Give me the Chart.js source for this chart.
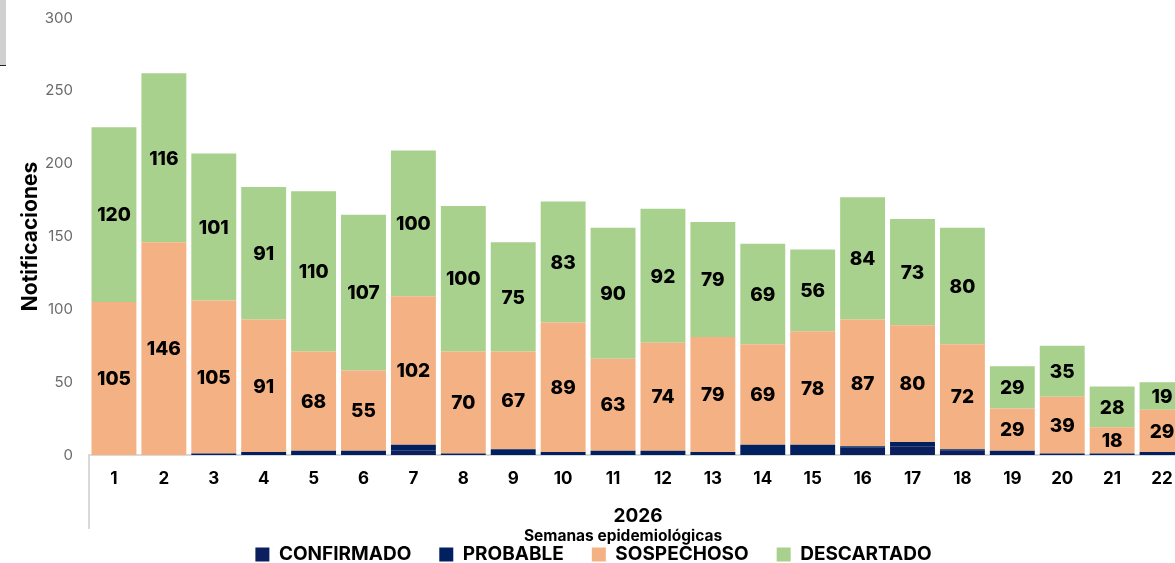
<!DOCTYPE html>
<html lang="es">
<head>
    <meta charset="UTF-8">
    <title>Notificaciones por semana epidemiológica</title>
    <script src="https://cdn.jsdelivr.net/npm/chart.js"></script>
    <style>
        body {
            margin: 0;
            padding: 0;
            background-color: #ffffff;
            overflow: hidden;
        }

        .wrap {
            position: absolute;
            left: 0;
            top: 0;
            width: 1195px;
            height: 563px;
        }

        .corner {
            position: absolute;
            left: 0;
            top: 0;
            width: 6px;
            height: 65px;
            background-color: #d0d0d0;
            border-bottom: 1px solid #222;
        }
    </style>
</head>
<body>
    <div class="wrap">
        <canvas id="notifChart"></canvas>
    </div>
    <div class="corner"></div>

    <script>
        // Semanas epidemiológicas 2026
        const weeks = ['1', '2', '3', '4', '5', '6', '7', '8', '9', '10', '11',
                       '12', '13', '14', '15', '16', '17', '18', '19', '20', '21', '22'];

        const confirmado = [0, 0, 0, 0, 0, 0, 3, 0, 0, 0, 0, 0, 0, 0, 0, 5, 6, 3, 0, 0, 0, 0];
        const probable   = [0, 0, 1, 2, 3, 3, 4, 1, 4, 2, 3, 3, 2, 7, 7, 1, 3, 1, 3, 1, 1, 2];
        const sospechoso = [105, 146, 105, 91, 68, 55, 102, 70, 67, 89, 63, 74, 79, 69, 78, 87, 80, 72, 29, 39, 18, 29];
        const descartado = [120, 116, 101, 91, 110, 107, 100, 100, 75, 83, 90, 92, 79, 69, 56, 84, 73, 80, 29, 35, 28, 19];

        const yTicks = [0, 50, 100, 150, 200, 250, 300];

        const FONT = "'Inter', 'Open Sans', sans-serif";

        // numbers inside the SOSPECHOSO and DESCARTADO segments
        const barLabels = {
            id: 'barLabels',
            afterDatasetsDraw(chart) {
                const ctx = chart.ctx;
                ctx.save();
                ctx.font = '800 19px ' + FONT;
                ctx.fillStyle = '#000000';
                ctx.textAlign = 'center';
                ctx.textBaseline = 'middle';
                [2, 3].forEach(function (di) {
                    const meta = chart.getDatasetMeta(di);
                    const values = chart.data.datasets[di].data;
                    meta.data.forEach(function (bar, i) {
                        if (!values[i]) return;
                        ctx.fillText(values[i], bar.x, (bar.y + bar.base) / 2 + 1);
                    });
                });
                ctx.restore();
            }
        };

        // year group label, axis title and the left separator line
        const axisExtras = {
            id: 'axisExtras',
            afterDraw(chart) {
                const ctx = chart.ctx;
                const area = chart.chartArea;
                const cx = (area.left + area.right) / 2;
                ctx.save();
                ctx.strokeStyle = '#d9d9d9';
                ctx.lineWidth = 2;
                ctx.beginPath();
                ctx.moveTo(area.left, area.bottom);
                ctx.lineTo(area.left, area.bottom + 74);
                ctx.stroke();

                ctx.fillStyle = '#000000';
                ctx.textAlign = 'center';
                ctx.textBaseline = 'middle';
                ctx.font = 'bold 19px ' + FONT;
                ctx.fillText('2026', cx, area.bottom + 61);
                ctx.font = 'bold 15.5px ' + FONT;
                ctx.fillText('Semanas epidemiológicas', cx - 15, area.bottom + 81);
                ctx.restore();
            }
        };

        const ctxNotif = document.getElementById('notifChart').getContext('2d');
        const notifChart = new Chart(ctxNotif, {
            type: 'bar',
            data: {
                labels: weeks,
                datasets: [
                    { label: 'CONFIRMADO', data: confirmado, backgroundColor: '#0b1f5e' },
                    { label: 'PROBABLE', data: probable, backgroundColor: '#002060' },
                    { label: 'SOSPECHOSO', data: sospechoso, backgroundColor: '#f4b183' },
                    { label: 'DESCARTADO', data: descartado, backgroundColor: '#a9d18e' }
                ]
            },
            options: {
                responsive: true,
                maintainAspectRatio: false,
                animation: false,
                layout: { padding: { top: 18, right: 8, left: 0, bottom: -11 } },
                datasets: {
                    bar: {
                        barPercentage: 0.9,
                        categoryPercentage: 1,
                        borderWidth: 0
                    }
                },
                plugins: {
                    tooltip: { enabled: false },
                    legend: {
                        position: 'bottom',
                        labels: {
                            color: '#000000',
                            font: { family: FONT, size: 19, weight: 'bold' },
                            boxWidth: 14,
                            boxHeight: 14,
                            padding: 28
                        }
                    }
                },
                scales: {
                    x: {
                        stacked: true,
                        grid: { display: false, drawTicks: false },
                        border: { color: '#d9d9d9', width: 2 },
                        ticks: {
                            color: '#000000',
                            font: { family: FONT, size: 17, weight: 'bold' },
                            padding: 14
                        },
                        afterFit(scale) { scale.height = 62; }
                    },
                    y: {
                        stacked: true,
                        min: 0,
                        max: 300,
                        afterBuildTicks(scale) {
                            scale.ticks = yTicks.map(v => ({ value: v }));
                        },
                        grid: { display: false, drawTicks: false },
                        border: { display: false },
                        ticks: {
                            color: '#6b6b6b',
                            font: { family: FONT, size: 15 },
                            padding: 16
                        },
                        title: {
                            display: true,
                            text: 'Notificaciones',
                            color: '#000000',
                            font: { family: FONT, size: 21, weight: 'bold' },
                            padding: { top: 18, bottom: 0 }
                        },
                        afterFit(scale) {
                            scale.width = 89;
                            scale.paddingTop = 0;
                        }
                    }
                }
            },
            plugins: [barLabels, axisExtras]
        });
    </script>
</body>
</html>
